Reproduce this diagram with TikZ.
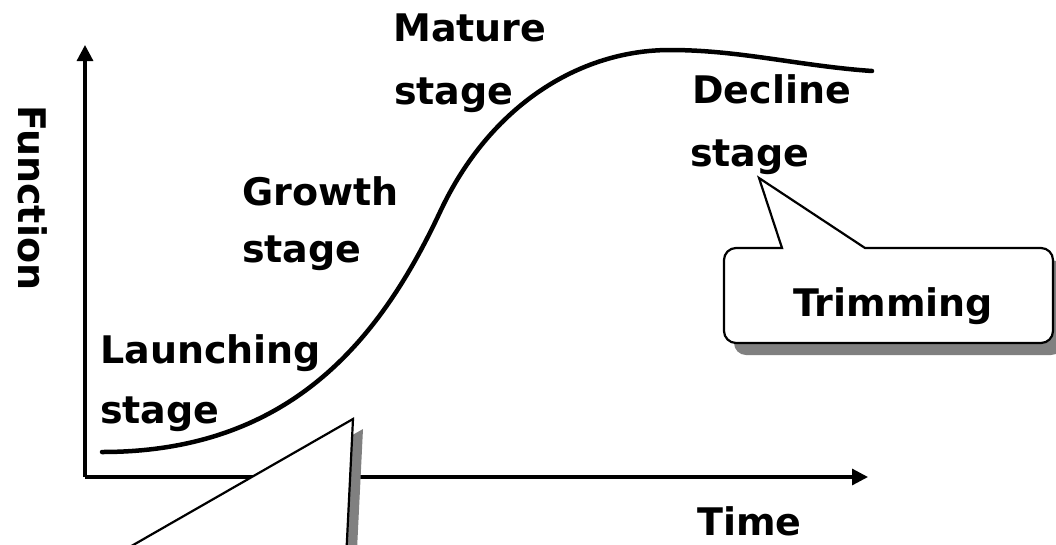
\documentclass[tikz,border=0pt]{standalone}
\usepackage{fontspec}
\setmainfont{DejaVu Sans}
\usetikzlibrary{arrows.meta}
\begin{document}
\begin{tikzpicture}[x=1pt,y=-1pt,
  lbl/.style={inner sep=0pt,font=\fontsize{38}{38}\selectfont\bfseries},
  axisline/.style={line width=3.2pt,-{Triangle[length=16pt,width=16pt]}},
  lifecurve/.style={line width=4.5pt,line cap=round},
  callout/.style={line width=2.2pt,fill=white,line join=miter},
  shade/.style={fill=black!50}]
\useasboundingbox (0,0) rectangle (1056,544);
\clip (0,0) rectangle (1056,544);

% axes
\coordinate (O) at (85,477);
\coordinate (ytop) at (85,45);
\coordinate (xend) at (868,477);
\draw[axisline] (O) -- (ytop);
\draw[axisline] (O) -- (xend);

% life-cycle curve
\coordinate (c0) at (102,452);
\coordinate (c1) at (440,212);
\coordinate (c2) at (670,50);
\coordinate (c3) at (872,71);
\draw[lifecurve] (c0) .. controls (290,452) and (380,340) .. (c1)
  .. controls (490,105) and (580,50) .. (c2)
  .. controls (740,50) and (800,66) .. (c3);

% stage labels
\node[lbl,anchor=base west] (launch1) at (100,363) {Launching};
\node[lbl,anchor=base west] (launch2) at (100,423) {stage};
\node[lbl,anchor=base west] (grow1) at (242,205) {Growth};
\node[lbl,anchor=base west] (grow2) at (242,262) {stage};
\node[lbl,anchor=base west] (mature1) at (393,41) {Mature};
\node[lbl,anchor=base west] (mature2) at (394,104) {stage};
\node[lbl,anchor=base west] (decline1) at (692,103) {Decline};
\node[lbl,anchor=base west] (decline2) at (690,166) {stage};
\node[lbl,anchor=base west] (time) at (697,535) {Time};
\node[lbl,anchor=base west,rotate=-90] (function) at (18,105) {Function};

% callout pointing at the decline stage
\coordinate (ttip) at (759,178);
\coordinate (tl) at (782,248);
\coordinate (tr) at (865,248);
\fill[shade,rounded corners=12pt] (734,260) rectangle (1063,355);
\draw[callout] (tl) -- (ttip) -- (tr) [rounded corners=12pt] -- (1053,248)
  -- (1053,343) -- (724,343) -- (724,248) [sharp corners] -- cycle;
\node[lbl,anchor=base] (trim) at (893,316) {Trimming};

% callout pointing at the growth stage (box below the frame)
\coordinate (btip) at (353,419);
\coordinate (bl) at (107,560);
\coordinate (br) at (346,560);
\fill[shade] ([shift={(10,10)}]btip) -- ([shift={(10,10)}]bl) -- ([shift={(10,10)}]br) -- cycle;
\draw[callout] (btip) -- (bl) -- (br) -- cycle;
\end{tikzpicture}
\end{document}
